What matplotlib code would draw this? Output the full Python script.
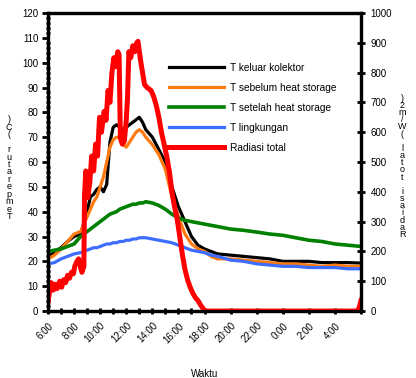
import matplotlib
matplotlib.use("Agg")
import matplotlib.pyplot as plt
from matplotlib.ticker import MultipleLocator, FixedLocator

plt.rcParams['font.family'] = ['Liberation Sans', 'DejaVu Sans']

# jam pengukuran (6:00 s/d 6:00 hari berikutnya, dalam jam)
jam = [6.0, 6.5, 7.0, 7.5, 8.0, 8.5, 9.0, 9.25, 9.5, 9.75, 10.0, 10.25, 10.5,
       10.75, 11.0, 11.25, 11.5, 11.75, 12.0, 12.25, 12.5, 12.75, 13.0, 13.25,
       13.5, 14.0, 14.5, 15.0, 15.5, 16.0, 16.5, 17.0, 17.5, 18.0, 18.5, 19.0,
       20.0, 21.0, 22.0, 23.0, 24.0, 25.0, 26.0, 27.0, 28.0, 29.0, 30.0]

t_keluar = [22, 23.5, 25.5, 28, 30, 31, 40, 46, 47, 49, 50, 48, 51,
            68, 74, 75, 74, 73, 74, 75, 76, 77, 78, 76,
            73, 70, 65, 60, 50, 42, 36, 30, 26.5, 25, 24, 23,
            22.5, 22, 21.5, 21, 20, 20, 20, 19.5, 19.5, 19.5, 19.3]

t_sebelum = [21, 22.5, 25, 28, 31, 32, 38, 41, 44, 46, 50, 54, 60,
             66, 69, 70, 70, 67, 66, 68, 70, 72, 73, 72,
             70, 67, 63, 57, 46, 38, 31, 27, 25, 24, 22, 21,
             21, 20.5, 20, 19.5, 19, 19, 18.5, 18, 18.5, 18, 18]

t_setelah = [24, 24.5, 25, 26, 27, 30, 32, 33, 34, 35, 36, 37, 38,
             39, 39.5, 40, 41, 41.5, 42, 42.5, 43, 43, 43.5, 43.5,
             44, 43.5, 42.5, 41, 39, 37.5, 36.5, 36, 35.5, 35, 34.5, 34,
             33, 32.5, 31.8, 31, 30.5, 29.5, 28.5, 28, 27, 26.5, 26]

t_lingkungan = [19, 19.5, 21, 22, 23, 23.5, 24.5, 25, 25.5, 25.5, 26, 26.5, 27,
                27, 27.5, 27.5, 28, 28, 28.5, 28.5, 29, 29, 29.5, 29.5,
                29.5, 29, 28.5, 28, 27.5, 26.5, 25.5, 24.5, 24, 23.5, 22.5, 22,
                20.5, 20, 19, 18.5, 18, 18, 17.5, 17.5, 17.5, 17, 17]

jam_rad = [6.0, 6.1, 6.25, 6.4, 6.55, 6.7, 6.9, 7.05, 7.2, 7.35, 7.5, 7.65,
           7.8, 7.95, 8.05, 8.2, 8.35, 8.5, 8.6, 8.75, 8.8, 8.9, 9.05, 9.2,
           9.35, 9.5, 9.65, 9.8, 9.95, 10.1, 10.3, 10.45, 10.6, 10.75, 10.9,
           11.05, 11.2, 11.35, 11.45, 11.55, 11.7, 11.85, 12.0, 12.1, 12.2,
           12.35, 12.5, 12.65, 12.8, 12.9, 13.1, 13.4, 13.6, 13.9, 14.1, 14.3,
           14.5, 14.7, 14.9, 15.1, 15.3, 15.5, 15.7, 15.9, 16.1, 16.3, 16.5,
           16.7, 16.9, 17.1, 17.3, 17.5, 17.7, 17.9, 18.0, 20.0, 24.0, 28.0,
           29.7, 29.85, 30.0]
radiasi = [30, 60, 95, 70, 90, 75, 100, 80, 105, 95, 120, 110,
           130, 125, 150, 165, 175, 145, 130, 150, 390, 470, 380, 430,
           520, 470, 560, 520, 650, 600, 670, 640, 740, 700, 800,
           850, 820, 870, 860, 580, 560, 570, 640, 720, 870,
           850, 890, 870, 900, 905, 840, 760, 750, 740, 720, 690,
           650, 600, 560, 520, 470, 400, 350, 310, 250, 190, 140,
           105, 80, 60, 45, 35, 20, 8, 0, 0, 0, 0,
           0, 10, 35]

label_jam = ["6:00", "8:00", "10:00", "12:00", "14:00", "16:00", "18:00",
             "20:00", "22:00", "0:00", "2:00", "4:00"]

fig = plt.figure(figsize=(4.16, 3.78), dpi=100)
ax = fig.add_axes([0.1154, 0.1772, 0.7524, 0.7884])
ax2 = ax.twinx()

l1, = ax.plot(jam, t_keluar, color='black', lw=2.3, label='T keluar kolektor')
l2, = ax.plot(jam, t_sebelum, color='#ff7a10', lw=2.3, label='T sebelum heat storage')
l3, = ax.plot(jam, t_setelah, color='#008000', lw=2.6, label='T setelah heat storage')
l4, = ax.plot(jam, t_lingkungan, color='#3d6dff', lw=2.3, label='T lingkungan')
l5, = ax2.plot(jam_rad, radiasi, color='#ff0000', lw=3.6, label='Radiasi total')

ax.set_xlim(6, 30)
ax.set_ylim(0, 120)
ax2.set_ylim(0, 1000)

ax.xaxis.set_major_locator(FixedLocator(list(range(6, 30, 2))))
ax.set_xticklabels(label_jam, rotation=45, ha='right', va='top',
                   rotation_mode='anchor', fontsize=7)
ax.xaxis.set_minor_locator(FixedLocator([7, 9, 11, 13, 15, 17, 30]))
ax.tick_params(axis='x', which='both', direction='inout', length=4, width=2, pad=5)

ax.yaxis.set_major_locator(MultipleLocator(10))
ax.yaxis.set_minor_locator(MultipleLocator(2))
ax.tick_params(axis='y', which='major', direction='out', length=4, width=2,
               labelsize=7, pad=3)
ax.tick_params(axis='y', which='minor', direction='inout', length=3, width=2)

ax2.yaxis.set_major_locator(MultipleLocator(100))
ax2.tick_params(axis='y', which='major', direction='inout', length=6, width=2,
                labelsize=7, pad=4)

for a in (ax, ax2):
    for s in a.spines.values():
        s.set_linewidth(2.3)

ax.set_xlabel('Waktu', fontsize=7, labelpad=17)

# label sumbu tegak, huruf disusun menurun
kiri = "Temperatur (C)"
kanan = "Radiasi total (W/m2)"
fig.text(0.022, 0.555, "\n".join(reversed(kiri)), fontsize=6.5, ha='center',
         va='center', linespacing=0.78)
fig.text(0.967, 0.56, "\n".join(reversed(kanan)), fontsize=6.5, ha='center',
         va='center', linespacing=0.74)

ax2.legend(handles=[l1, l2, l3, l4, l5], loc='upper left',
           bbox_to_anchor=(0.37, 0.85), frameon=False, fontsize=7.3,
           handlelength=5.4, handletextpad=0.6, labelspacing=0.98,
           borderpad=0)

fig.savefig('out.png', dpi=100)
